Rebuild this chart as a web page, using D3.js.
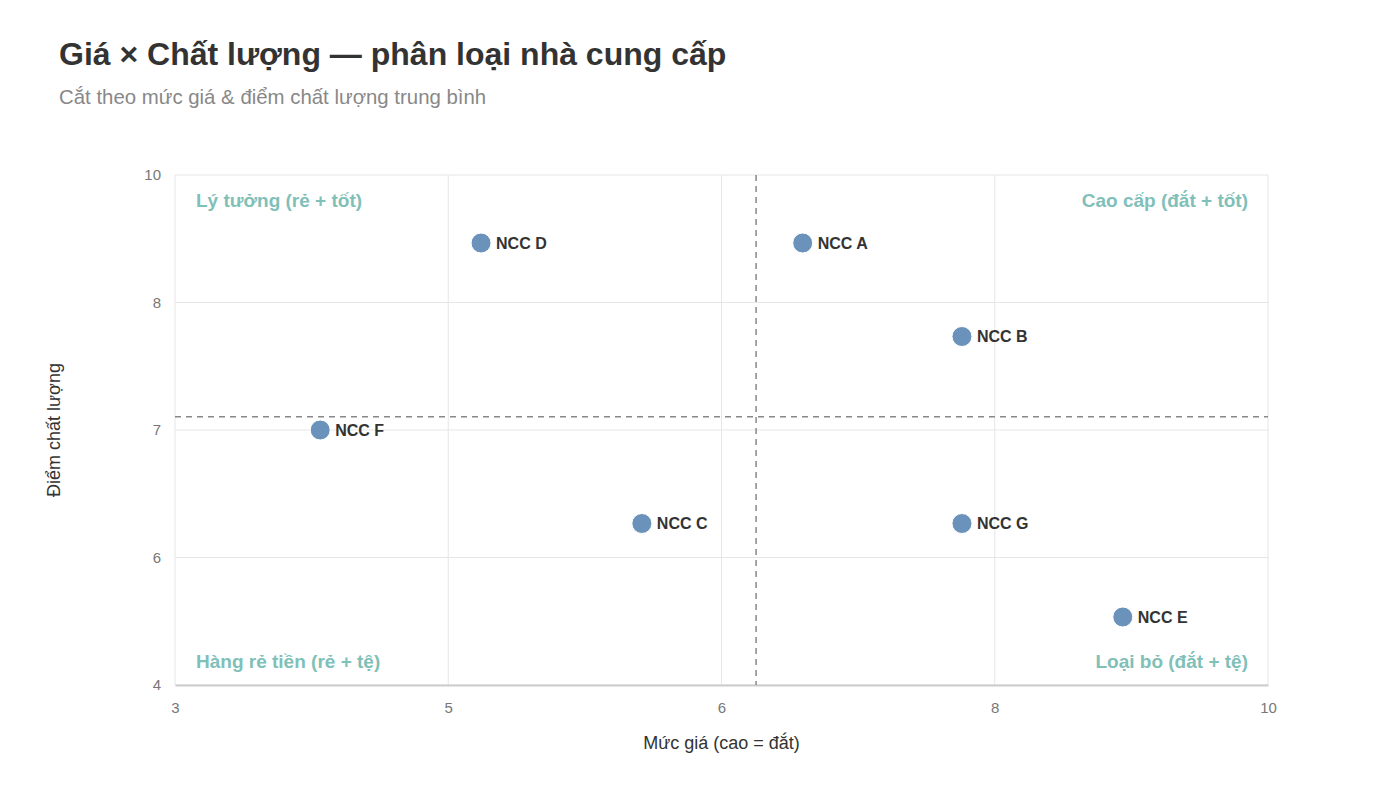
<!DOCTYPE html>
<html>
<head>
<meta charset="utf-8">
<script src="https://cdn.jsdelivr.net/npm/d3@7"></script>
<style>
  html, body { margin: 0; padding: 0; background: #fff; }
  svg { display: block; font-family: "Liberation Sans", Arial, Helvetica, sans-serif; }
</style>
</head>
<body>
<svg id="chart" width="1400" height="787"></svg>
<script>
const suppliers = ["NCC A", "NCC B", "NCC C", "NCC D", "NCC E", "NCC F", "NCC G"];
const priceValues = [7.02, 8.04, 5.99, 4.96, 9.07, 3.93, 8.04];
const qualityValues = [9.2, 8.1, 5.9, 9.2, 4.8, 7.0, 5.9];
const xTickValues = [3, 4.75, 6.5, 8.25, 10];
const xTickLabels = ["3", "5", "6", "8", "10"];
const yTickValues = [4, 5.5, 7, 8.5, 10];
const yTickLabels = ["4", "6", "7", "8", "10"];
const quadrantLabels = ["Lý tưởng (rẻ + tốt)", "Cao cấp (đắt + tốt)", "Hàng rẻ tiền (rẻ + tệ)", "Loại bỏ (đắt + tệ)"];
const titleText = "Giá × Chất lượng — phân loại nhà cung cấp";
const subtitleText = "Cắt theo mức giá & điểm chất lượng trung bình";
const xAxisTitle = "Mức giá (cao = đắt)";
const yAxisTitle = "Điểm chất lượng";

(function () {
const svg = d3.select("#chart");
const pL = 175, pR = 1268, pT = 175, pB = 685;

const x = d3.scaleLinear().domain([3, 10]).range([pL, pR]);
const y = d3.scaleLinear().domain([4, 10]).range([pB, pT]);

// title
svg.append("text").attr("x", 59).attr("y", 65)
  .attr("font-size", 32).attr("font-weight", "bold").attr("fill", "#333")
  .text(titleText);
svg.append("text").attr("x", 59).attr("y", 104)
  .attr("font-size", 20.4).attr("fill", "#888")
  .text(subtitleText);

// grid
const grid = svg.append("g");
grid.selectAll("line.v").data(xTickValues).join("line").attr("class", "v")
  .attr("x1", d => x(d)).attr("x2", d => x(d))
  .attr("y1", pT).attr("y2", pB)
  .attr("stroke", "#e6e6e6").attr("stroke-width", 1);
grid.selectAll("line.h").data(yTickValues).join("line").attr("class", "h")
  .attr("x1", pL).attr("x2", pR)
  .attr("y1", d => y(d)).attr("y2", d => y(d))
  .attr("stroke", "#e6e6e6").attr("stroke-width", 1);

// x axis
const xAxis = d3.axisBottom(x).tickValues(xTickValues)
  .tickFormat((d, i) => xTickLabels[i]).tickSize(0).tickPadding(17);
const gx = svg.append("g").attr("transform", `translate(0,${pB})`).call(xAxis);
gx.select(".domain").attr("stroke", "#ccc").attr("stroke-width", 2);
gx.selectAll("text").attr("font-size", 15).attr("fill", "#777").attr("font-family", "Liberation Sans, Arial, sans-serif");

// y axis
const yAxis = d3.axisLeft(y).tickValues(yTickValues)
  .tickFormat((d, i) => yTickLabels[i]).tickSize(0).tickPadding(14);
const gy = svg.append("g").attr("transform", `translate(${pL},0)`).call(yAxis);
gy.select(".domain").remove();
gy.selectAll("text").attr("font-size", 15).attr("fill", "#777").attr("font-family", "Liberation Sans, Arial, sans-serif");

// axis titles
svg.append("text").attr("x", (pL + pR) / 2).attr("y", 749)
  .attr("text-anchor", "middle").attr("font-size", 18).attr("fill", "#333")
  .text(xAxisTitle);
svg.append("text")
  .attr("transform", `translate(60,${(pT + pB) / 2}) rotate(-90)`)
  .attr("text-anchor", "middle").attr("font-size", 18).attr("fill", "#333")
  .text(yAxisTitle);

// mean lines
const meanX = d3.mean(priceValues);
const meanY = d3.mean(qualityValues);
svg.append("line")
  .attr("x1", x(meanX)).attr("x2", x(meanX)).attr("y1", pT).attr("y2", pB)
  .attr("stroke", "#888").attr("stroke-width", 1.5).attr("stroke-dasharray", "6,5");
svg.append("line")
  .attr("x1", pL).attr("x2", pR).attr("y1", y(meanY)).attr("y2", y(meanY))
  .attr("stroke", "#888").attr("stroke-width", 1.5).attr("stroke-dasharray", "6,5");

// quadrant labels
const qColor = "#7fc0b8";
const qg = svg.append("g").attr("font-size", 19).attr("font-weight", "bold").attr("fill", qColor);
qg.append("text").attr("x", pL + 21).attr("y", 207).text(quadrantLabels[0]);
qg.append("text").attr("x", pR - 20).attr("y", 207).attr("text-anchor", "end").text(quadrantLabels[1]);
qg.append("text").attr("x", pL + 21).attr("y", 668).text(quadrantLabels[2]);
qg.append("text").attr("x", pR - 20).attr("y", 668).attr("text-anchor", "end").text(quadrantLabels[3]);

// points
const data = suppliers.map((s, i) => ({ name: s, px: priceValues[i], q: qualityValues[i] }));
const pts = svg.append("g");
pts.selectAll("circle").data(data).join("circle")
  .attr("cx", d => x(d.px)).attr("cy", d => y(d.q)).attr("r", 10)
  .attr("fill", "#6b92bb").attr("stroke", "#fff").attr("stroke-width", 1);
pts.selectAll("text").data(data).join("text")
  .attr("x", d => x(d.px) + 15).attr("y", d => y(d.q) + 5.5)
  .attr("font-size", 16).attr("font-weight", "bold").attr("fill", "#333")
  .text(d => d.name);
})();
</script>
</body>
</html>
